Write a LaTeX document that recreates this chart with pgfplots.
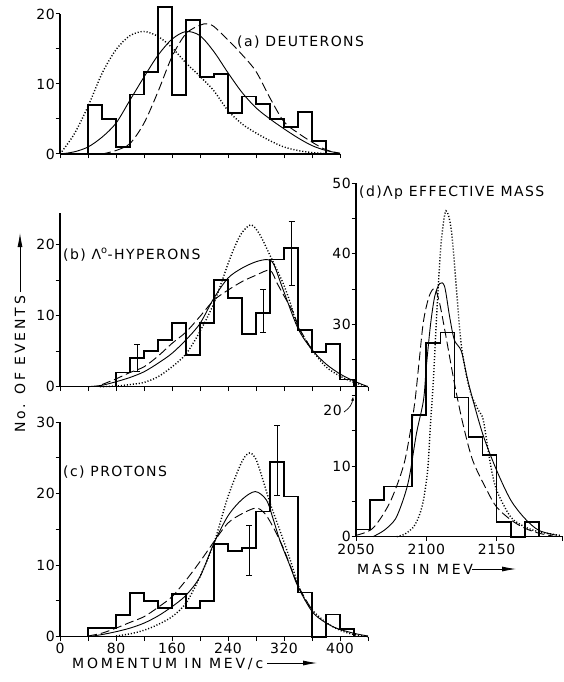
\documentclass[border=0pt]{standalone}
\usepackage{fontspec}
\setmainfont[LetterSpace=10]{DejaVu Sans}
\newfontfamily\axfont[LetterSpace=20]{DejaVu Sans}
\newfontfamily\tickfont[LetterSpace=4]{DejaVu Sans}
\usepackage{pgfplots}
\pgfplotsset{compat=1.18}
\usetikzlibrary{arrows.meta}
\newcommand\lab{\fontsize{14}{16}\selectfont}

\pgfplotsset{
  panel/.style={
    axis lines*=left, clip=false, anchor=south west,
    axis line style={line width=1.1pt},
    tick align=outside, major tick length=4.5pt,
    tick style={line width=1pt, black},
    tick label style={font=\tickfont\lab},
    xticklabel style={inner sep=2pt},
    yticklabel style={inner sep=0.5pt},
    xmin=0, ymin=0, enlargelimits=false,
  },
  hist/.style={const plot, black, line width=1.7pt, mark=none},
  fitS/.style={smooth, black, line width=0.9pt, mark=none},
  fitD/.style={smooth, black, line width=0.9pt, dash pattern=on 9pt off 4pt, mark=none},
  fitP/.style={smooth, black, line width=1.4pt, dash pattern=on 1.1pt off 1.9pt, mark=none},
  ebar/.style={draw=none, mark=none, forget plot,
    error bars/.cd, y dir=both, y explicit,
    error bar style={draw=black, solid, line width=1pt},
    error mark=-,
    error mark options={draw=black, solid, line width=1pt, mark size=3pt, rotate=90}},
}

\begin{document}
\begin{tikzpicture}
\path[use as bounding box] (0,0) rectangle (563pt,-682pt);

% (a) deuterons
\begin{axis}[panel, at={(60pt,-154pt)}, x=0.7pt, y=7.0pt, xmax=400, ymax=20,
  xtick={0,40,...,400}, xticklabels={},
  ytick={0,5,...,20}, yticklabels={0,,10,,20}]
\addplot[hist] coordinates {(40,0)(40,7)(60,5)(80,1)(100,8.5)(120,11.7)(140,21)(160,8.4)(180,19.1)(200,11)(220,11.4)(240,5.9)(260,8.2)(280,7.1)(300,5)(320,3.9)(340,6)(360,1.9)(380,0)};
\addplot[fitP] coordinates {(0,0)(20,2.8)(40,6.8)(60,11.5)(80,14.9)(100,16.9)(120,17.5)(140,16.8)(160,15.2)(180,13)(200,11.1)(220,9)(240,6.2)(260,4.3)(280,3)(300,1.9)(320,1.0)(340,0.5)(360,0.2)(380,0.05)(400,0)};
\addplot[fitS] coordinates {(0,0)(20,0.3)(40,1)(60,2.4)(80,4.4)(100,7.7)(120,11)(140,14.1)(160,16.4)(180,17.5)(200,16.9)(220,14.6)(240,11.6)(260,8.8)(280,6.6)(300,5)(320,3.6)(340,2.3)(360,1.2)(380,0.5)(400,0.1)};
\addplot[fitD] coordinates {(60,0)(80,0.5)(100,1.5)(120,4.4)(140,8.9)(160,13.9)(180,17.2)(200,18.4)(210,18.6)(220,18.2)(240,16.3)(260,14.2)(280,11.8)(300,8)(320,4.6)(340,3)(360,1.7)(380,0.6)(400,0.1)};
\end{axis}

% (b) lambda hyperons
\begin{axis}[panel, at={(60pt,-386.7pt)}, x=0.7pt, y=7.1pt, xmax=440, ymax=24.5,
  xtick={0,40,...,440}, xticklabels={},
  ytick={0,5,...,20}, yticklabels={0,,10,,20}]
\addplot[hist] coordinates {(80,0)(80,2)(100,4)(120,5)(140,6.6)(160,9)(180,4.5)(200,9)(220,15)(240,12.5)(260,7.4)(280,10.4)(300,17.9)(320,19.5)(340,8)(360,4.9)(380,6)(400,1)(420,0)};
\addplot[ebar] coordinates {(110,4.05) +- (0,1.95) (290,10.65) +- (0,3.05) (331,18.7) +- (0,4.5)};
\addplot[fitP] coordinates {(57,0)(80,0.1)(100,0.3)(120,0.6)(140,1.4)(160,2.8)(180,4.6)(200,7.8)(220,11.8)(240,17.3)(250,19.8)(260,21.7)(273,22.8)(285,21.5)(300,18.5)(319,14.5)(330,11.5)(340,8.4)(360,5.2)(380,2.8)(400,1.5)(420,0.6)(440,0)};
\addplot[fitS] coordinates {(40,0)(60,0.2)(80,0.7)(100,1.3)(120,2.1)(140,3.3)(160,4.7)(180,6.6)(200,8.9)(220,12.5)(240,15.3)(260,16.7)(280,17.6)(296,17.9)(305,17.3)(319,13.6)(340,8.2)(360,5.2)(380,3.2)(400,1.8)(420,0.8)(440,0)};
\addplot[fitD] coordinates {(60,0.3)(80,1.1)(100,2)(120,2.8)(140,4.3)(160,6.1)(180,7.7)(200,9.9)(220,12.2)(240,13.6)(260,14.8)(280,15.7)(300,16.4)(310,14.6)(320,12.8)(333,10.5)(342,8.2)(360,5.2)};
\end{axis}

% (c) protons
\begin{axis}[panel, at={(60pt,-636.7pt)}, x=0.7pt, y=7.15pt, xmax=440, ymax=30,
  xtick={0,40,...,440}, xticklabels={0,,80,,160,,240,,320,,400,},
  ytick={0,5,...,30}, yticklabels={0,,10,,20,,30}]
\addplot[hist] coordinates {(40,0)(40,1.2)(60,1.2)(80,3)(100,6.1)(120,5)(140,4)(160,6)(180,4)(200,5)(220,13)(240,12)(260,12.4)(280,17.5)(300,24.4)(320,19.6)(340,6.2)(360,0)(380,3.1)(400,1.1)(420,0)};
\addplot[ebar] coordinates {(270,12.05) +- (0,3.55) (310,24.6) +- (0,4.9)};
\addplot[fitP] coordinates {(80,0.1)(100,0.4)(120,0.9)(140,1.7)(160,2.8)(180,4.7)(200,8.4)(220,13.1)(240,19.6)(260,24.5)(271,25.7)(280,24.8)(290,21.9)(300,18.7)(314,14.9)(329,10.7)(343,6.5)(360,3.8)(380,2)(400,0.9)(420,0.3)(440,0)};
\addplot[fitS] coordinates {(40,0)(60,0.3)(80,0.7)(100,1.2)(120,1.9)(140,2.9)(160,4.2)(180,5.8)(200,8.4)(220,13.1)(240,16.9)(260,19.2)(279,20.3)(295,19.1)(305,16.3)(314,13.5)(329,9.8)(340,7)(362,3.3)(390,1.4)(419,0.5)(440,0.1)};
\addplot[fitD] coordinates {(40,0.1)(60,0.5)(80,1.2)(100,2)(120,2.8)(140,4.1)(160,5.6)(180,7.9)(200,10.5)(220,13.3)(240,15.9)(260,17.2)(280,18)(292,17.3)(303,15.6)(319,12.4)(340,7.2)(362,3.4)};
\end{axis}

% (d) effective mass
\begin{axis}[panel, at={(356pt,-536.7pt)}, x=1.406pt, y=7.07pt, xmin=2050, xmax=2197, ymax=50,
  xtick={2050,2100,2150,2197}, xticklabels={2050,2100,2150,},
  xticklabel style={inner sep=3pt},
  ytick={0,5,...,50}, yticklabels={0,,10,,,,30,,40,,50}]
\addplot[hist] coordinates {(2050,0)(2050,1)(2060,5.2)(2070,7.1)(2080,7.1)(2090,17.2)(2100,27.4)(2110,28.9)(2120,19.7)(2130,14.1)(2140,11.6)(2150,2.1)(2160,0)(2170,2.1)(2180,0)};
\addplot[fitP] coordinates {(2079,0)(2085,0.4)(2091,1.4)(2095,3)(2098,5.2)(2101,9.5)(2103,16)(2105,22)(2107,30)(2109,37)(2111,42.5)(2114,46.1)(2117.8,43.4)(2121.3,35.4)(2125,26.9)(2131,20.7)(2137,17.9)(2140.5,16.5)(2145.5,10.4)(2150,6.6)(2160,2.8)(2170,1.4)(2180,0.7)(2195,0.2)};
\addplot[fitS] coordinates {(2062,0)(2070,0.9)(2078,2.5)(2084,5.5)(2088,8.5)(2093,14.6)(2098,19.3)(2100,24)(2103,30)(2106,34)(2109.5,35.8)(2113,35.4)(2116.6,31.1)(2120,27.8)(2125,26.2)(2130,21.7)(2140,14.6)(2150,9.4)(2160,5.2)(2170,2.6)(2180,0.9)(2193,0.2)};
\addplot[fitD] coordinates {(2050,0.2)(2062,1.2)(2074,4.8)(2083.6,9.9)(2088.4,14.6)(2092,19.3)(2095,25)(2098,30.5)(2102,34)(2106,35.1)(2109.5,33)(2114,28.3)(2120,21.7)(2126,16)(2133,10.8)(2143,6.6)(2150,4.2)(2160,2.4)(2170,1.2)(2180,0.5)(2190,0.1)};
\end{axis}

% labels
\node[anchor=base west, inner sep=0, font=\lab] at (237pt,-47pt) {(a) DEUTERONS};
\node[anchor=base west, inner sep=0, font=\lab] at (63pt,-259pt) {(b) Λ\textsuperscript{o}-HYPERONS};
\node[anchor=base west, inner sep=0, font=\lab] at (63pt,-476pt) {(c) PROTONS};
\node[anchor=base west, inner sep=0, font=\lab] at (359pt,-196pt) {(d)Λp EFFECTIVE MASS};
\node[anchor=base east, inner sep=0, font=\tickfont\lab] at (342pt,-415pt) {20};
\draw[line width=0.7pt, -{Stealth[length=4pt,width=3pt]}] (344pt,-412pt) to[bend right=25] (353pt,-397pt);

\node[anchor=base west, inner sep=0, font=\axfont\lab] at (72pt,-668pt) {MOMENTUM IN MEV/c};
\draw[line width=0.8pt, -{Latex[length=14pt,width=5pt]}] (267pt,-663pt) -- (317pt,-663pt);
\node[anchor=base west, inner sep=0, font=\axfont\lab] at (357pt,-574pt) {MASS IN MEV};
\draw[line width=0.8pt, -{Latex[length=14pt,width=5pt]}] (472pt,-569pt) -- (516pt,-569pt);
\node[rotate=90, anchor=base west, inner sep=0, font=\axfont\lab] at (25pt,-433pt) {No. OF EVENTS};
\draw[line width=0.8pt, -{Latex[length=14pt,width=5pt]}] (20pt,-292pt) -- (20pt,-233pt);
\end{tikzpicture}
\end{document}
